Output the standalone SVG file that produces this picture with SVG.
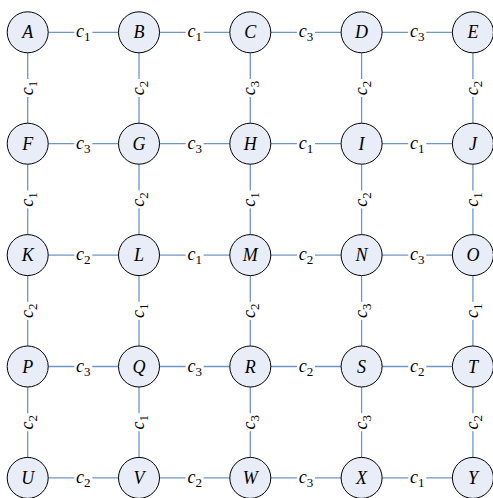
<svg xmlns="http://www.w3.org/2000/svg" width="493" height="498" viewBox="0 0 493 498">
<style>
.e{stroke:#7094cc;stroke-width:1.3;fill:none}
.n circle{fill:#e8edf7;stroke:#000;stroke-width:1}
.n text{font-size:18px;text-anchor:middle;fill:#000}
.l rect{fill:#fff}
.l text{font-size:18px;text-anchor:middle;fill:#000}
.l tspan{font-size:13px;font-style:normal}
</style>
<rect width="493" height="498" fill="#fff"/>
<g id="connectors" font-family="'Liberation Serif', 'Times New Roman', Times, serif" font-style="italic">
<line class="e" x1="27.7" y1="32.3" x2="139" y2="32.3"/><line class="e" x1="139" y1="32.3" x2="250.3" y2="32.3"/><line class="e" x1="250.3" y1="32.3" x2="361.6" y2="32.3"/><line class="e" x1="361.6" y1="32.3" x2="472.9" y2="32.3"/>
<line class="e" x1="27.7" y1="143.7" x2="139" y2="143.7"/><line class="e" x1="139" y1="143.7" x2="250.3" y2="143.7"/><line class="e" x1="250.3" y1="143.7" x2="361.6" y2="143.7"/><line class="e" x1="361.6" y1="143.7" x2="472.9" y2="143.7"/>
<line class="e" x1="27.7" y1="255.1" x2="139" y2="255.1"/><line class="e" x1="139" y1="255.1" x2="250.3" y2="255.1"/><line class="e" x1="250.3" y1="255.1" x2="361.6" y2="255.1"/><line class="e" x1="361.6" y1="255.1" x2="472.9" y2="255.1"/>
<line class="e" x1="27.7" y1="366.5" x2="139" y2="366.5"/><line class="e" x1="139" y1="366.5" x2="250.3" y2="366.5"/><line class="e" x1="250.3" y1="366.5" x2="361.6" y2="366.5"/><line class="e" x1="361.6" y1="366.5" x2="472.9" y2="366.5"/>
<line class="e" x1="27.7" y1="477.9" x2="139" y2="477.9"/><line class="e" x1="139" y1="477.9" x2="250.3" y2="477.9"/><line class="e" x1="250.3" y1="477.9" x2="361.6" y2="477.9"/><line class="e" x1="361.6" y1="477.9" x2="472.9" y2="477.9"/>
<line class="e" x1="27.7" y1="32.3" x2="27.7" y2="143.7"/><line class="e" x1="27.7" y1="143.7" x2="27.7" y2="255.1"/><line class="e" x1="27.7" y1="255.1" x2="27.7" y2="366.5"/><line class="e" x1="27.7" y1="366.5" x2="27.7" y2="477.9"/>
<line class="e" x1="139" y1="32.3" x2="139" y2="143.7"/><line class="e" x1="139" y1="143.7" x2="139" y2="255.1"/><line class="e" x1="139" y1="255.1" x2="139" y2="366.5"/><line class="e" x1="139" y1="366.5" x2="139" y2="477.9"/>
<line class="e" x1="250.3" y1="32.3" x2="250.3" y2="143.7"/><line class="e" x1="250.3" y1="143.7" x2="250.3" y2="255.1"/><line class="e" x1="250.3" y1="255.1" x2="250.3" y2="366.5"/><line class="e" x1="250.3" y1="366.5" x2="250.3" y2="477.9"/>
<line class="e" x1="361.6" y1="32.3" x2="361.6" y2="143.7"/><line class="e" x1="361.6" y1="143.7" x2="361.6" y2="255.1"/><line class="e" x1="361.6" y1="255.1" x2="361.6" y2="366.5"/><line class="e" x1="361.6" y1="366.5" x2="361.6" y2="477.9"/>
<line class="e" x1="472.9" y1="32.3" x2="472.9" y2="143.7"/><line class="e" x1="472.9" y1="143.7" x2="472.9" y2="255.1"/><line class="e" x1="472.9" y1="255.1" x2="472.9" y2="366.5"/><line class="e" x1="472.9" y1="366.5" x2="472.9" y2="477.9"/>
<g class="l" transform="translate(83.35,32.3)"><rect x="-9" y="-7" width="18" height="14"/><text y="5">c<tspan dy="4">1</tspan></text></g>
<g class="l" transform="translate(194.65,32.3)"><rect x="-9" y="-7" width="18" height="14"/><text y="5">c<tspan dy="4">1</tspan></text></g>
<g class="l" transform="translate(305.95,32.3)"><rect x="-9" y="-7" width="18" height="14"/><text y="5">c<tspan dy="4">3</tspan></text></g>
<g class="l" transform="translate(417.25,32.3)"><rect x="-9" y="-7" width="18" height="14"/><text y="5">c<tspan dy="4">3</tspan></text></g>
<g class="l" transform="translate(83.35,143.7)"><rect x="-9" y="-7" width="18" height="14"/><text y="5">c<tspan dy="4">3</tspan></text></g>
<g class="l" transform="translate(194.65,143.7)"><rect x="-9" y="-7" width="18" height="14"/><text y="5">c<tspan dy="4">3</tspan></text></g>
<g class="l" transform="translate(305.95,143.7)"><rect x="-9" y="-7" width="18" height="14"/><text y="5">c<tspan dy="4">1</tspan></text></g>
<g class="l" transform="translate(417.25,143.7)"><rect x="-9" y="-7" width="18" height="14"/><text y="5">c<tspan dy="4">1</tspan></text></g>
<g class="l" transform="translate(83.35,255.1)"><rect x="-9" y="-7" width="18" height="14"/><text y="5">c<tspan dy="4">2</tspan></text></g>
<g class="l" transform="translate(194.65,255.1)"><rect x="-9" y="-7" width="18" height="14"/><text y="5">c<tspan dy="4">1</tspan></text></g>
<g class="l" transform="translate(305.95,255.1)"><rect x="-9" y="-7" width="18" height="14"/><text y="5">c<tspan dy="4">2</tspan></text></g>
<g class="l" transform="translate(417.25,255.1)"><rect x="-9" y="-7" width="18" height="14"/><text y="5">c<tspan dy="4">3</tspan></text></g>
<g class="l" transform="translate(83.35,366.5)"><rect x="-9" y="-7" width="18" height="14"/><text y="5">c<tspan dy="4">3</tspan></text></g>
<g class="l" transform="translate(194.65,366.5)"><rect x="-9" y="-7" width="18" height="14"/><text y="5">c<tspan dy="4">3</tspan></text></g>
<g class="l" transform="translate(305.95,366.5)"><rect x="-9" y="-7" width="18" height="14"/><text y="5">c<tspan dy="4">2</tspan></text></g>
<g class="l" transform="translate(417.25,366.5)"><rect x="-9" y="-7" width="18" height="14"/><text y="5">c<tspan dy="4">2</tspan></text></g>
<g class="l" transform="translate(83.35,477.9)"><rect x="-9" y="-7" width="18" height="14"/><text y="5">c<tspan dy="4">2</tspan></text></g>
<g class="l" transform="translate(194.65,477.9)"><rect x="-9" y="-7" width="18" height="14"/><text y="5">c<tspan dy="4">2</tspan></text></g>
<g class="l" transform="translate(305.95,477.9)"><rect x="-9" y="-7" width="18" height="14"/><text y="5">c<tspan dy="4">3</tspan></text></g>
<g class="l" transform="translate(417.25,477.9)"><rect x="-9" y="-7" width="18" height="14"/><text y="5">c<tspan dy="4">1</tspan></text></g>
<g class="l" transform="translate(27.7,88) rotate(-90)"><rect x="-9" y="-7" width="18" height="14"/><text y="5">c<tspan dy="4">1</tspan></text></g>
<g class="l" transform="translate(27.7,199.4) rotate(-90)"><rect x="-9" y="-7" width="18" height="14"/><text y="5">c<tspan dy="4">1</tspan></text></g>
<g class="l" transform="translate(27.7,310.8) rotate(-90)"><rect x="-9" y="-7" width="18" height="14"/><text y="5">c<tspan dy="4">2</tspan></text></g>
<g class="l" transform="translate(27.7,422.2) rotate(-90)"><rect x="-9" y="-7" width="18" height="14"/><text y="5">c<tspan dy="4">2</tspan></text></g>
<g class="l" transform="translate(139,88) rotate(-90)"><rect x="-9" y="-7" width="18" height="14"/><text y="5">c<tspan dy="4">2</tspan></text></g>
<g class="l" transform="translate(139,199.4) rotate(-90)"><rect x="-9" y="-7" width="18" height="14"/><text y="5">c<tspan dy="4">2</tspan></text></g>
<g class="l" transform="translate(139,310.8) rotate(-90)"><rect x="-9" y="-7" width="18" height="14"/><text y="5">c<tspan dy="4">1</tspan></text></g>
<g class="l" transform="translate(139,422.2) rotate(-90)"><rect x="-9" y="-7" width="18" height="14"/><text y="5">c<tspan dy="4">1</tspan></text></g>
<g class="l" transform="translate(250.3,88) rotate(-90)"><rect x="-9" y="-7" width="18" height="14"/><text y="5">c<tspan dy="4">3</tspan></text></g>
<g class="l" transform="translate(250.3,199.4) rotate(-90)"><rect x="-9" y="-7" width="18" height="14"/><text y="5">c<tspan dy="4">1</tspan></text></g>
<g class="l" transform="translate(250.3,310.8) rotate(-90)"><rect x="-9" y="-7" width="18" height="14"/><text y="5">c<tspan dy="4">2</tspan></text></g>
<g class="l" transform="translate(250.3,422.2) rotate(-90)"><rect x="-9" y="-7" width="18" height="14"/><text y="5">c<tspan dy="4">3</tspan></text></g>
<g class="l" transform="translate(361.6,88) rotate(-90)"><rect x="-9" y="-7" width="18" height="14"/><text y="5">c<tspan dy="4">2</tspan></text></g>
<g class="l" transform="translate(361.6,199.4) rotate(-90)"><rect x="-9" y="-7" width="18" height="14"/><text y="5">c<tspan dy="4">2</tspan></text></g>
<g class="l" transform="translate(361.6,310.8) rotate(-90)"><rect x="-9" y="-7" width="18" height="14"/><text y="5">c<tspan dy="4">3</tspan></text></g>
<g class="l" transform="translate(361.6,422.2) rotate(-90)"><rect x="-9" y="-7" width="18" height="14"/><text y="5">c<tspan dy="4">3</tspan></text></g>
<g class="l" transform="translate(472.9,88) rotate(-90)"><rect x="-9" y="-7" width="18" height="14"/><text y="5">c<tspan dy="4">2</tspan></text></g>
<g class="l" transform="translate(472.9,199.4) rotate(-90)"><rect x="-9" y="-7" width="18" height="14"/><text y="5">c<tspan dy="4">1</tspan></text></g>
<g class="l" transform="translate(472.9,310.8) rotate(-90)"><rect x="-9" y="-7" width="18" height="14"/><text y="5">c<tspan dy="4">1</tspan></text></g>
<g class="l" transform="translate(472.9,422.2) rotate(-90)"><rect x="-9" y="-7" width="18" height="14"/><text y="5">c<tspan dy="4">2</tspan></text></g>
</g>
<g id="nodes" font-family="'Liberation Serif', 'Times New Roman', Times, serif" font-style="italic">
<g id="node-A" class="n"><circle cx="27.7" cy="32.3" r="20.5"/><text x="27.7" y="38.3">A</text></g>
<g id="node-B" class="n"><circle cx="139" cy="32.3" r="20.5"/><text x="139" y="38.3">B</text></g>
<g id="node-C" class="n"><circle cx="250.3" cy="32.3" r="20.5"/><text x="250.3" y="38.3">C</text></g>
<g id="node-D" class="n"><circle cx="361.6" cy="32.3" r="20.5"/><text x="361.6" y="38.3">D</text></g>
<g id="node-E" class="n"><circle cx="472.9" cy="32.3" r="20.5"/><text x="472.9" y="38.3">E</text></g>
<g id="node-F" class="n"><circle cx="27.7" cy="143.7" r="20.5"/><text x="27.7" y="149.7">F</text></g>
<g id="node-G" class="n"><circle cx="139" cy="143.7" r="20.5"/><text x="139" y="149.7">G</text></g>
<g id="node-H" class="n"><circle cx="250.3" cy="143.7" r="20.5"/><text x="250.3" y="149.7">H</text></g>
<g id="node-I" class="n"><circle cx="361.6" cy="143.7" r="20.5"/><text x="361.6" y="149.7">I</text></g>
<g id="node-J" class="n"><circle cx="472.9" cy="143.7" r="20.5"/><text x="472.9" y="149.7">J</text></g>
<g id="node-K" class="n"><circle cx="27.7" cy="255.1" r="20.5"/><text x="27.7" y="261.1">K</text></g>
<g id="node-L" class="n"><circle cx="139" cy="255.1" r="20.5"/><text x="139" y="261.1">L</text></g>
<g id="node-M" class="n"><circle cx="250.3" cy="255.1" r="20.5"/><text x="250.3" y="261.1">M</text></g>
<g id="node-N" class="n"><circle cx="361.6" cy="255.1" r="20.5"/><text x="361.6" y="261.1">N</text></g>
<g id="node-O" class="n"><circle cx="472.9" cy="255.1" r="20.5"/><text x="472.9" y="261.1">O</text></g>
<g id="node-P" class="n"><circle cx="27.7" cy="366.5" r="20.5"/><text x="27.7" y="372.5">P</text></g>
<g id="node-Q" class="n"><circle cx="139" cy="366.5" r="20.5"/><text x="139" y="372.5">Q</text></g>
<g id="node-R" class="n"><circle cx="250.3" cy="366.5" r="20.5"/><text x="250.3" y="372.5">R</text></g>
<g id="node-S" class="n"><circle cx="361.6" cy="366.5" r="20.5"/><text x="361.6" y="372.5">S</text></g>
<g id="node-T" class="n"><circle cx="472.9" cy="366.5" r="20.5"/><text x="472.9" y="372.5">T</text></g>
<g id="node-U" class="n"><circle cx="27.7" cy="477.9" r="20.5"/><text x="27.7" y="483.9">U</text></g>
<g id="node-V" class="n"><circle cx="139" cy="477.9" r="20.5"/><text x="139" y="483.9">V</text></g>
<g id="node-W" class="n"><circle cx="250.3" cy="477.9" r="20.5"/><text x="250.3" y="483.9">W</text></g>
<g id="node-X" class="n"><circle cx="361.6" cy="477.9" r="20.5"/><text x="361.6" y="483.9">X</text></g>
<g id="node-Y" class="n"><circle cx="472.9" cy="477.9" r="20.5"/><text x="472.9" y="483.9">Y</text></g>
</g>
</svg>
